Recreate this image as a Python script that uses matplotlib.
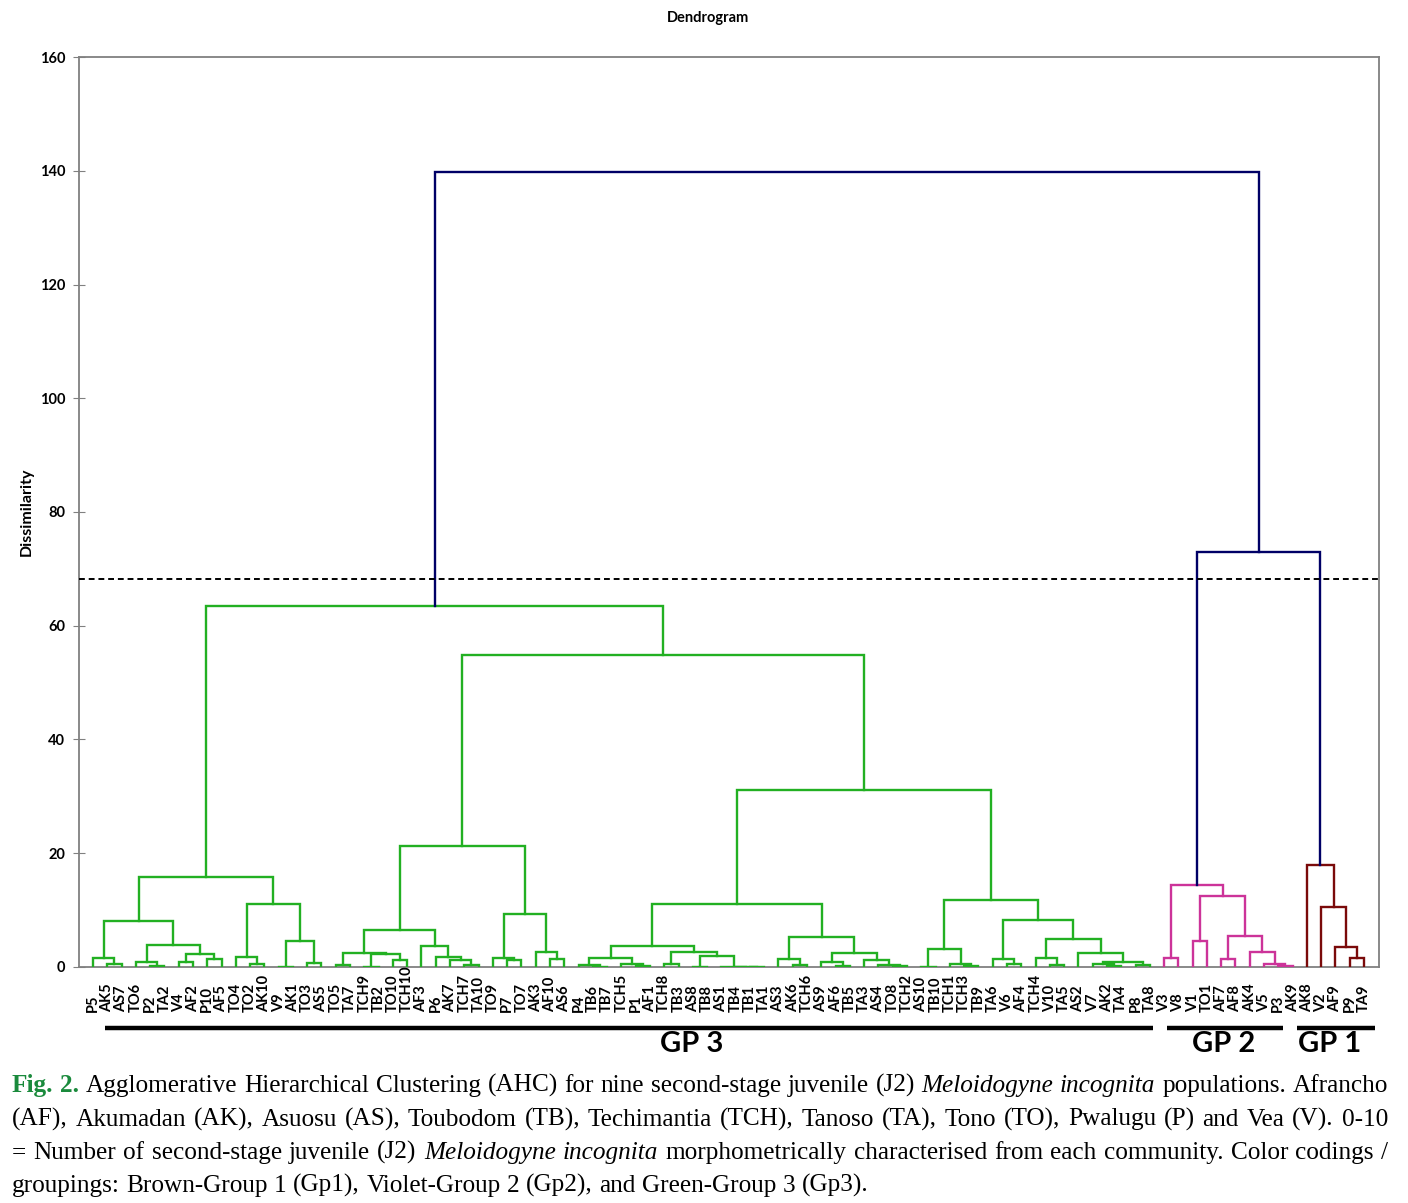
import matplotlib
matplotlib.use("Agg")
import matplotlib.pyplot as plt
import matplotlib.transforms as mtransforms

# ---- data: every node is (merge height, left, right) ----
cluster_a = (15.9,
             (8.1, (1.6, "P5", (0.5, "AK5", "AS7")),
                   (3.9, (0.9, "TO6", (0.2, "P2", "TA2")),
                         (2.3, (0.9, "V4", "AF2"), (1.35, "P10", "AF5")))),
             (11.0, (1.7, "TO4", (0.5, "TO2", "AK10")),
                    (4.6, (0.05, "V9", "AK1"), (0.75, "TO3", "AS5"))))

cluster_b = (6.5,
             (2.5, (0.3, "TO5", "TA7"),
                   (2.2, (0.05, "TCH9", "TB2"), (1.2, "TO10", "TCH10"))),
             (3.6, "AF3", (1.75, "P6", (1.2, "AK7", (0.35, "TCH7", "TA10")))))

cluster_c = (9.4,
             (1.6, "TO9", (1.3, "P7", "TO7")),
             (2.7, "AK3", (1.35, "AF10", "AS6")))

cluster_d = (11.0,
             (3.75, (1.6, (0.4, "P4", (0.05, "TB6", "TB7")),
                          (0.5, "TCH5", (0.2, "P1", "AF1"))),
                    (2.7, (0.5, "TCH8", "TB3"),
                          (2.0, (0.05, "AS8", "TB8"),
                                (0.05, "AS1", (0.05, "TB4", (0.05, "TB1", "TA1")))))),
             (5.2, (1.35, "AS3", (0.35, "AK6", "TCH6")),
                   (2.5, (0.8, "AS9", (0.2, "AF6", "TB5")),
                         (1.3, "TA3", (0.35, "AS4", (0.2, "TO8", "TCH2"))))))

cluster_e = (11.8,
             (3.2, (0.05, "AS10", "TB10"), (0.5, "TCH1", (0.2, "TCH3", "TB9"))),
             (8.3, (1.35, "TA6", (0.6, "V6", "AF4")),
                   (4.9, (1.6, "TCH4", (0.4, "V10", "TA5")),
                         (2.5, "AS2", (0.9, (0.45, "V7", (0.2, "AK2", "TA4")),
                                            (0.4, "P8", "TA8"))))))

gp3_tree = (63.5, cluster_a, (54.9, (21.3, cluster_b, cluster_c),
                                    (31.1, cluster_d, cluster_e)))

gp2_tree = (14.4, (1.65, "V3", "V8"),
            (12.5, (4.5, "V1", "TO1"),
                   (5.5, (1.45, "AF7", "AF8"),
                         (2.65, "AK4", (0.6, "V5", (0.1, "P3", "AK9"))))))

gp1_tree = (18.0, "AK8", (10.5, "V2", (3.5, "AF9", (1.65, "P9", "TA9"))))

gp12_height = 73.0
root_height = 139.8
cut_height = 68.2

group_names = ["GP 3", "GP 2", "GP 1"]

# ---- style ----
green, violet, brown, navy = "#22b022", "#cc3399", "#7a0a0a", "#000066"
lw = 1.7
label_font = "Lato"

fig = plt.figure(figsize=(14.08, 12.03), dpi=100)
ax = fig.add_axes([0.0561, 0.1962, 0.9233, 0.7564])

leaf_order = []


def u_link(xl, hl, xr, hr, h, color):
    ax.plot([xl, xl, xr, xr], [hl, h, h, hr], color=color, lw=lw,
            solid_joinstyle="miter", zorder=3)


def draw(node, color):
    if isinstance(node, str):
        leaf_order.append(node)
        return len(leaf_order) - 1, 0.0
    h, left, right = node
    xl, hl = draw(left, color)
    xr, hr = draw(right, color)
    u_link(xl, hl, xr, hr, h, color)
    return (xl + xr) / 2, h


x3, h3 = draw(gp3_tree, green)
x2, h2 = draw(gp2_tree, violet)
x1, h1 = draw(gp1_tree, brown)
u_link(x2, h2, x1, h1, gp12_height, navy)
u_link(x3, h3, (x2 + x1) / 2, gp12_height, root_height, navy)

ax.axhline(cut_height, color="black", lw=1.4, ls=(0, (3, 2)), zorder=4)

# ---- axes ----
ax.set_xlim(-0.98, len(leaf_order) + 0.05)
ax.set_ylim(0, 160)
ax.set_yticks(range(0, 161, 20))
ax.set_xticks([])
ax.tick_params(axis="y", direction="inout", length=8, color="#808080",
               labelsize=10.5, pad=6)
for lab in ax.get_yticklabels():
    lab.set_fontweight("bold")
    lab.set_family(label_font)
for sp in ax.spines.values():
    sp.set_color("#808080")
    sp.set_linewidth(1.3)
ax.set_ylabel("Dissimilarity", fontsize=11.5, fontweight="bold",
              family=label_font, labelpad=4)
fig.text(0.503, 0.985, "Dendrogram", ha="center", va="center",
         fontsize=10.5, fontweight="bold", family=label_font)

# leaf labels: text starts at a common line below the axis and reads upward
trans = mtransforms.blended_transform_factory(ax.transData, fig.transFigure)
for i, name in enumerate(leaf_order):
    ax.text(i, 1 - 1012 / 1203, name, transform=trans, rotation=90,
            ha="center", va="bottom", fontsize=10.5, fontweight="bold",
            family=label_font)

# ---- group bars under the leaf labels ----
first3, last3 = 0, leaf_order.index("TA8")
first2, last2 = leaf_order.index("V3"), leaf_order.index("AK9")
first1, last1 = leaf_order.index("AK8"), len(leaf_order) - 1
spans = [(first3 + 0.84, last3 + 0.2), (first2 + 0.2, last2 - 0.7),
         (first1 - 0.7, last1 + 0.8)]
label_x = [41.9, 79.2, 86.6]
for name, (a, b), lx in zip(group_names, spans, label_x):
    ax.plot([a, b], [0.1455, 0.1455], color="black", lw=3.2,
            transform=trans, clip_on=False, solid_capstyle="butt")
    ax.text(lx, 0.1325, name, transform=trans, ha="center", va="center",
            fontsize=21, fontweight="bold", family=label_font)

# ---- caption, justified like the journal text ----
serif = "Liberation Serif"
cap_size = 18.2
styles = {
    "fig": dict(family=serif, fontsize=cap_size, fontweight="bold", color="#1a8a3c"),
    "n": dict(family=serif, fontsize=cap_size),
    "i": dict(family=serif, fontsize=cap_size, style="italic"),
}
caption = [
    [("Fig. 2.", "fig"),
     ("Agglomerative Hierarchical Clustering (AHC) for nine second-stage juvenile (J2)", "n"),
     ("Meloidogyne incognita", "i"), ("populations. Afrancho", "n")],
    [("(AF), Akumadan (AK), Asuosu (AS), Toubodom (TB), Techimantia (TCH), Tanoso (TA), "
      "Tono (TO), Pwalugu (P) and Vea (V). 0-10", "n")],
    [("= Number of second-stage juvenile (J2)", "n"), ("Meloidogyne incognita", "i"),
     ("morphometrically characterised from each community. Color codings /", "n")],
    [("groupings: Brown-Group 1 (Gp1), Violet-Group 2 (Gp2), and Green-Group 3 (Gp3).", "n")],
]
renderer = fig.canvas.get_renderer()
W, H = 1408.0, 1203.0
x_left, x_right = 12.0, 1388.0
baselines = [1092, 1125.5, 1159, 1192]


def text_width(s, sty):
    t = fig.text(0, 0, s, **styles[sty])
    w = t.get_window_extent(renderer).width
    t.remove()
    return w


space_w = text_width("a a", "n") - text_width("aa", "n")

for k, (segs, yb) in enumerate(zip(caption, baselines)):
    words = [(w, sty) for txt, sty in segs for w in txt.split()]
    widths = [text_width(w, sty) for w, sty in words]
    justify = k < len(caption) - 1
    gap = (x_right - x_left - sum(widths)) / (len(words) - 1) if justify else space_w
    x = x_left
    for (w, sty), wd in zip(words, widths):
        fig.text(x / W, 1 - yb / H, w, va="baseline", ha="left", **styles[sty])
        x += wd + gap

fig.savefig("out.png", dpi=100)
